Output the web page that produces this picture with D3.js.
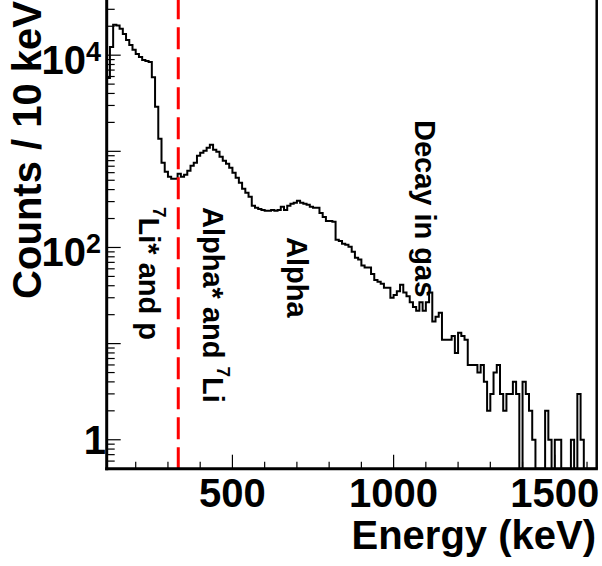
<!DOCTYPE html>
<html><head><meta charset="utf-8">
<script src="https://cdn.jsdelivr.net/npm/d3@7"></script>
<style>
body{margin:0;background:#fff}
svg{display:block}
text{font-family:"Liberation Sans",Arial,Helvetica,sans-serif;font-weight:bold;fill:#000}
</style>
</head><body><svg id="c" width="602" height="566"></svg>
<script>
// ---- data ----
const binStart = 110;      // keV, low edge of first bin
const binWidth = 10;       // keV
const counts = [
  5800,12200,20700,20400,18800,16600,14400,12800,11400,10300,
  9600,8900,8700,8500,5900,2900,1350,760,612,543,
  518,518,583,543,570,627,707,760,898,965,
  1012,1087,1168,1037,988,877,797,742,674,598,
  530,471,407,370,336,271,259,252,246,241,
  241,246,241,246,265,246,271,285,292,306,
  292,285,278,265,259,259,229,208,189,189,
  185,120,117,109,107,102,90,78,75,65,
  62,62,53,46,44,42,38,38,30,32,
  35,41,34,31,27,24,22,27,22,27,
  34,17,19,21,11,11,11,12,8,13,
  12,11,6,6,6,5,6,4,2,3,
  5,6,3,2,3,3,4,3,0,4,
  3,2,1,0,0,0,2,1,0,1,
  1,0,0,0,1,0,3,1,0,0,
  0,0
];
const xDomain = [110, 1630];
const yDomain = [0.5, 4e4];
const xTickValues = [500, 1000, 1500];
const xTickLabels = ["500", "1000", "1500"];
const yTickValues = [1, 100, 10000];
const yTickBase = ["1", "10", "10"];
const yTickExp = ["", "2", "4"];
const cutEnergy = 332;
const xTitle = "Energy (keV)";
const yTitle = "Counts / 10 keV";
const labels = [
  {sup: "7", main: "Li* and p"},
  {pre: "Alpha* and ", sup: "7", main: "Li"},
  {main: "Alpha"},
  {main: "Decay in gas"}
];

// ---- drawing ----
const svg = d3.select('#c');
const L = 106.7, R = 596.7, T = -2.7, B = 468.7;
const x = d3.scaleLinear().domain(xDomain).range([L, R]);
const y = d3.scaleLog().domain(yDomain).range([B, T]).clamp(true);

svg.append('defs').append('clipPath').attr('id','clip')
  .append('rect').attr('x',L).attr('y',T).attr('width',R-L).attr('height',B-T);

// histogram
const pts = [];
counts.forEach((c,i)=>{
  const lo = binStart + i*binWidth;
  pts.push([lo, c]); pts.push([lo+binWidth, c]);
});
const line = d3.line().x(d=>x(d[0])).y(d=>y(Math.max(d[1], 0.01)));
svg.append('path').attr('d', line(pts)).attr('clip-path','url(#clip)')
  .attr('fill','none').attr('stroke','#000').attr('stroke-width',2)
  .attr('stroke-linejoin','miter');

// dashed cut line
svg.append('line').attr('x1',x(cutEnergy)).attr('x2',x(cutEnergy))
  .attr('y1',T).attr('y2',B)
  .attr('stroke','#ff0000').attr('stroke-width',3).attr('stroke-dasharray','22 8');

// frame
svg.append('line').attr('x1',L).attr('x2',L).attr('y1',T-2).attr('y2',B+1.5).attr('stroke','#000').attr('stroke-width',3);
svg.append('line').attr('x1',L-1.5).attr('x2',R+1.2).attr('y1',B).attr('y2',B).attr('stroke','#000').attr('stroke-width',3);
svg.append('line').attr('x1',R).attr('x2',R).attr('y1',T-2).attr('y2',B).attr('stroke','#000').attr('stroke-width',2.5);

// y ticks (log)
const yt = [];
for (let d=-1; d<=4; d++) for (let m=1; m<=9; m++) {
  const v = m*Math.pow(10,d);
  if (v>=yDomain[0] && v<=yDomain[1]) yt.push({v, major: m===1});
}
svg.selectAll('.yt').data(yt).enter().append('line')
  .attr('x1',L).attr('x2',d=>L+(d.major?14:8))
  .attr('y1',d=>y(d.v)).attr('y2',d=>y(d.v))
  .attr('stroke','#000').attr('stroke-width',1.2);

// x ticks
const xt = d3.range(200, 1700, 100).filter(v=>v>xDomain[0] && v<xDomain[1]);
svg.selectAll('.xt').data(xt).enter().append('line')
  .attr('x1',d=>x(d)).attr('x2',d=>x(d))
  .attr('y1',B).attr('y2',d=>B-(d%500===0?14:7))
  .attr('stroke','#000').attr('stroke-width',1.2);

// x tick labels
svg.selectAll('.xl').data(xTickValues).enter().append('text')
  .attr('x',d=>x(d)).attr('y',506.5).attr('text-anchor','middle')
  .attr('font-size',40).text((d,i)=>xTickLabels[i]);

// y tick labels
yTickValues.forEach((v,i)=>{
  const t = svg.append('text').attr('text-anchor','end').attr('font-size',40);
  if (yTickExp[i]) {
    t.attr('x',101).attr('y',y(v)+18.5);
    t.append('tspan').text(yTickBase[i]);
    t.append('tspan').attr('font-size',27).attr('dy',-12.5).text(yTickExp[i]);
  } else {
    t.attr('x',106).attr('y',y(v)+14.5).text(yTickBase[i]);
  }
});

// axis titles
svg.append('text').attr('x',596).attr('y',549).attr('text-anchor','end')
  .attr('font-size',40).text(xTitle);
svg.append('text').attr('transform',`translate(41,1) rotate(-90)`)
  .attr('text-anchor','end').attr('font-size',40).text(yTitle);

// annotations (rotated, reading downward)
const annPos = [[139,207],[202.5,207],[287,237],[415,120]];
labels.forEach((lb,i)=>{
  const t = svg.append('text')
    .attr('transform',`translate(${annPos[i][0]},${annPos[i][1]}) rotate(90)`)
    .attr('font-size',29);
  if (lb.pre) t.append('tspan').text(lb.pre);
  if (lb.sup) {
    t.append('tspan').attr('font-size',19).attr('dy',-14).text(lb.sup);
    t.append('tspan').attr('dy',14).text(lb.main);
  } else {
    t.append('tspan').text(lb.main);
  }
});
</script>
</body></html>
